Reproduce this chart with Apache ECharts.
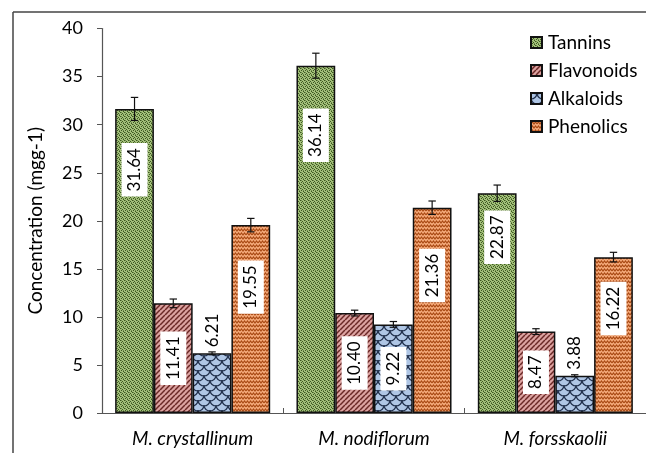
<!DOCTYPE html>
<html>
<head>
<meta charset="utf-8">
<script src="https://cdn.jsdelivr.net/npm/echarts@6/dist/echarts.min.js"></script>
<style>
html,body{margin:0;padding:0;background:#fff;}
#c{width:646px;height:453px;}
</style>
</head>
<body>
<div id="c"></div>
<script>
const categories = ['M. crystallinum', 'M. nodiflorum', 'M. forsskaolii'];
const seriesNames = ['Tannins', 'Flavonoids', 'Alkaloids', 'Phenolics'];
const tannins = [31.64, 36.14, 22.87];
const flavonoids = [11.41, 10.40, 8.47];
const alkaloids = [6.21, 9.22, 3.88];
const phenolics = [19.55, 21.36, 16.22];
const tanninsErr = [1.2, 1.3, 0.85];
const flavonoidsErr = [0.45, 0.3, 0.3];
const alkaloidsErr = [0.15, 0.3, 0.1];
const phenolicsErr = [0.7, 0.7, 0.5];
const yMin = 0, yMax = 40, yStep = 5;

const FONT = 'Lato';
const CAT_GAP = 0.145;

function tile(w, h, bg, draw) {
  const c = document.createElement('canvas');
  c.width = w; c.height = h;
  const g = c.getContext('2d');
  g.fillStyle = bg; g.fillRect(0, 0, w, h);
  draw(g);
  return c;
}
const patTannins = tile(4, 4, '#a4c17b', g => {
  g.fillStyle = '#3d5820';
  g.fillRect(0, 0, 1, 1); g.fillRect(2, 1, 1, 1); g.fillRect(1, 2, 1, 1); g.fillRect(3, 3, 1, 1);
  g.fillStyle = '#6f8c4c';
  g.fillRect(1, 0, 1, 1); g.fillRect(3, 2, 1, 1);
});
const patFlav = tile(5, 5, '#dca2a0', g => {
  g.strokeStyle = '#6a2826'; g.lineWidth = 1.5;
  for (let k = -1; k <= 1; k++) {
    g.beginPath(); g.moveTo(k * 5, 5); g.lineTo(k * 5 + 5, 0); g.stroke();
  }
});
const patAlk = tile(12, 10, '#afc6e5', g => {
  g.strokeStyle = '#22314d'; g.lineWidth = 1.2;
  const arc = (cx, cy) => { g.beginPath(); g.arc(cx, cy, 6, 0, Math.PI); g.stroke(); };
  arc(0, 0); arc(12, 0); arc(6, 5); arc(0, 10); arc(12, 10); arc(6, -5);
});
const patPhen = tile(6, 4, '#f5aa7b', g => {
  g.strokeStyle = '#a94a14'; g.lineWidth = 1.2;
  g.beginPath(); g.moveTo(0, 3); g.lineTo(1.5, 1); g.lineTo(3, 3); g.lineTo(4.5, 1); g.lineTo(6, 3); g.stroke();
});

const values = [tannins, flavonoids, alkaloids, phenolics];
const errs = [tanninsErr, flavonoidsErr, alkaloidsErr, phenolicsErr];
const patterns = [patTannins, patFlav, patAlk, patPhen];
const labelPos = [['50%', '20%'], ['50%', '50%'], ['50%', '50%'], ['50%', '33%']];

const insideLabel = (i) => ({
  show: true,
  rotate: 90,
  position: labelPos[i],
  align: 'center',
  verticalAlign: 'middle',
  formatter: p => p.value.toFixed(2),
  fontFamily: FONT,
  fontSize: 17,
  color: '#000',
  backgroundColor: '#fff',
  padding: [5, 5, 4, 5]
});

const barSeries = seriesNames.map((name, i) => ({
  name: name,
  type: 'bar',
  barGap: 0,
  barCategoryGap: (CAT_GAP * 100) + '%',
  itemStyle: { color: { image: patterns[i], repeat: 'repeat' }, borderColor: '#111', borderWidth: 1.5 },
  label: insideLabel(i),
  data: values[i].map(v => v < 7 ? {
    value: v,
    label: { position: 'top', distance: 6, align: 'left', verticalAlign: 'middle', backgroundColor: 'transparent', padding: 0 }
  } : v)
}));

const errSeries = seriesNames.map((name, i) => ({
  name: name + ' err',
  type: 'custom',
  z: 10,
  silent: true,
  encode: { x: 0, y: 1 },
  data: values[i].map((v, j) => [j, v, errs[i][j]]),
  renderItem: (params, api) => {
    const ci = api.value(0), v = api.value(1), e = api.value(2);
    const c = api.coord([ci, v]);
    const catW = api.size([1, 0])[0];
    const barW = catW * (1 - CAT_GAP) / 4;
    const x = c[0] + (i - 1.5) * barW;
    const yt = api.coord([ci, v + e])[1];
    const yb = api.coord([ci, v - e])[1];
    const st = { stroke: '#111', lineWidth: 1.2 };
    return {
      type: 'group',
      children: [
        { type: 'line', shape: { x1: x, y1: yt, x2: x, y2: yb }, style: st },
        { type: 'line', shape: { x1: x - 3.7, y1: yt, x2: x + 3.7, y2: yt }, style: st },
        { type: 'line', shape: { x1: x - 3.7, y1: yb, x2: x + 3.7, y2: yb }, style: st }
      ]
    };
  }
}));

const chart = echarts.init(document.getElementById('c'), null, { renderer: 'canvas' });
chart.setOption({
  animation: false,
  backgroundColor: '#fff',
  grid: { left: 102, top: 28.6, width: 549, height: 384.4, containLabel: false },
  legend: {
    data: seriesNames,
    orient: 'vertical',
    left: 525,
    top: 28,
    itemWidth: 11,
    itemHeight: 11,
    itemGap: 9,
    icon: 'rect',
    textStyle: { fontFamily: FONT, fontSize: 19, color: '#000', lineHeight: 18, padding: [0, 0, 0, 1] }
  },
  xAxis: {
    type: 'category',
    data: categories,
    axisLine: { lineStyle: { color: '#555', width: 1.2 } },
    axisTick: { show: true, inside: true, length: 5, lineStyle: { color: '#555' } },
    axisLabel: { fontFamily: FONT, fontStyle: 'italic', fontSize: 19, color: '#000', margin: 16 }
  },
  yAxis: {
    type: 'value',
    min: yMin, max: yMax, interval: yStep,
    name: 'Concentration (mgg-1)',
    nameLocation: 'middle',
    nameGap: 57,
    nameTextStyle: { fontFamily: FONT, fontSize: 19, color: '#000' },
    axisLine: { show: true, lineStyle: { color: '#555', width: 1.2 } },
    axisTick: { show: true, inside: false, length: 5, lineStyle: { color: '#555' } },
    splitLine: { show: false },
    axisLabel: { fontFamily: FONT, fontSize: 18, color: '#000', margin: 19 }
  },
  graphic: [
    { type: 'line', shape: { x1: 13, y1: 12, x2: 646, y2: 12 }, style: { stroke: '#444', lineWidth: 1.5 } },
    { type: 'line', shape: { x1: 13, y1: 12, x2: 13, y2: 453 }, style: { stroke: '#444', lineWidth: 1.5 } }
  ],
  series: barSeries.concat(errSeries)
});
</script>
</body>
</html>
